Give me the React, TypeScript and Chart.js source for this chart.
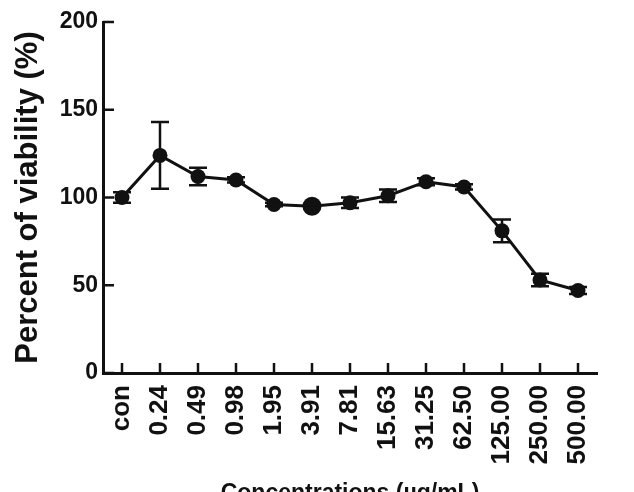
import React, { useEffect, useRef } from "react";
import { Chart, registerables } from "chart.js";

Chart.register(...registerables);

// ---- data ----
const categories = [
  "con", "0.24", "0.49", "0.98", "1.95", "3.91", "7.81",
  "15.63", "31.25", "62.50", "125.00", "250.00", "500.00",
];
const viability = [100, 124, 112, 110, 96, 95, 97, 101, 109, 106, 81, 53, 47];
const errors = [3, 19, 5, 1.5, 1, 1, 3, 3.5, 2, 1.5, 6.5, 3.5, 2];
const yMin = 0;
const yMax = 200;
const yStep = 50;
const xTitle = "Concentrations (µg/mL)";
const yTitle = "Percent of viability (%)";

// ---- layout / style ----
const W = 634;
const H = 520;
const FONT = "'Liberation Sans', Arial, Helvetica, sans-serif";
const INK = "#111111";
const AREA_LEFT = 103;
const AREA_BOTTOM = 373;

const errorBarsPlugin = {
  id: "errorBars",
  afterDatasetsDraw(chart: any) {
    const { ctx, scales } = chart;
    const x = scales.x;
    const y = scales.y;
    ctx.save();
    ctx.strokeStyle = INK;
    ctx.lineWidth = 2.5;
    ctx.beginPath();
    viability.forEach((v, i) => {
      const e = errors[i];
      const px = x.getPixelForValue(i);
      const top = y.getPixelForValue(v + e);
      const bot = y.getPixelForValue(v - e);
      ctx.moveTo(px, top);
      ctx.lineTo(px, bot);
      ctx.moveTo(px - 9, top);
      ctx.lineTo(px + 9, top);
      ctx.moveTo(px - 9, bot);
      ctx.lineTo(px + 9, bot);
    });
    ctx.stroke();
    ctx.restore();
  },
};

const innerTicksPlugin = {
  id: "innerTicks",
  afterDraw(chart: any) {
    const { ctx, scales, chartArea } = chart;
    const x = scales.x;
    const y = scales.y;
    ctx.save();
    ctx.strokeStyle = INK;
    ctx.lineWidth = 2.5;
    ctx.beginPath();
    y.ticks.forEach((t: any) => {
      const py = y.getPixelForValue(t.value);
      ctx.moveTo(chartArea.left, py);
      ctx.lineTo(chartArea.left + 11, py);
    });
    x.ticks.forEach((_t: any, i: number) => {
      const px = x.getPixelForTick(i);
      ctx.moveTo(px, chartArea.bottom);
      ctx.lineTo(px, chartArea.bottom - 10);
    });
    ctx.stroke();
    ctx.restore();
  },
};

export default function App() {
  const ref = useRef<HTMLCanvasElement | null>(null);

  useEffect(() => {
    if (!ref.current) return;
    const chart = new Chart(ref.current, {
      type: "line",
      data: {
        labels: categories,
        datasets: [
          {
            data: viability,
            borderColor: INK,
            backgroundColor: INK,
            borderWidth: 3,
            pointBackgroundColor: INK,
            pointBorderColor: INK,
            pointBorderWidth: 0,
            pointRadius: (c: any) => (c.dataIndex === 5 ? 9.5 : 7.5),
            tension: 0,
          },
        ],
      },
      options: {
        responsive: false,
        animation: false,
        devicePixelRatio: 1,
        layout: { padding: { top: 22, right: 37, left: 0, bottom: 0 } },
        plugins: {
          legend: { display: false },
          tooltip: { enabled: false },
        },
        scales: {
          x: {
            type: "category",
            offset: true,
            grid: { display: false, drawTicks: false },
            border: { display: true, color: INK, width: 3 },
            ticks: {
              autoSkip: false,
              minRotation: 90,
              maxRotation: 90,
              padding: 12,
              color: INK,
              font: { family: FONT, size: 26, weight: "bold" },
            },
            title: {
              display: true,
              text: xTitle,
              color: INK,
              font: { family: FONT, size: 23, weight: "bold" },
              padding: { top: 0, bottom: 13 },
            },
            afterFit: (s: any) => {
              s.height = H - AREA_BOTTOM;
            },
          },
          y: {
            min: yMin,
            max: yMax,
            grid: { display: false, drawTicks: false },
            border: { display: true, color: INK, width: 3 },
            ticks: {
              stepSize: yStep,
              padding: 5,
              color: INK,
              font: { family: FONT, size: 23, weight: "bold" },
            },
            title: {
              display: true,
              text: yTitle,
              color: INK,
              font: { family: FONT, size: 31, weight: "bold" },
              padding: { top: 10, bottom: 0 },
            },
            afterFit: (s: any) => {
              s.width = AREA_LEFT;
            },
          },
        },
      },
      plugins: [errorBarsPlugin, innerTicksPlugin],
    } as any);
    return () => chart.destroy();
  }, []);

  return (
    <div
      style={{
        position: "fixed",
        left: 0,
        top: 0,
        width: W,
        height: 492,
        overflow: "hidden",
        background: "#ffffff",
      }}
    >
      <canvas ref={ref} width={W} height={H} style={{ display: "block" }} />
    </div>
  );
}
